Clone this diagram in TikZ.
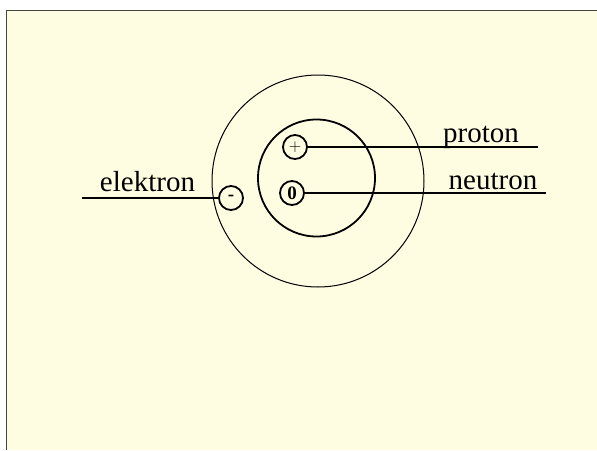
\documentclass[tikz,border=0pt]{standalone}
\usepackage{fontspec}
\setmainfont{Liberation Serif}
\usetikzlibrary{positioning}
\definecolor{paper}{RGB}{255,253,225}
\definecolor{frame}{RGB}{70,70,70}
\tikzset{particle/.style={draw,circle,line width=1.8pt,minimum size=24pt,inner sep=0pt,font=\fontsize{19}{19}\selectfont\bfseries},
label/.style={anchor=base,inner sep=0pt,font=\fontsize{29}{30}\selectfont},
lead/.style={line width=2pt}}
\begin{document}
\begin{tikzpicture}[x=1pt,y=-1pt]
\useasboundingbox(0,0)rectangle(597,450);
\fill[paper](6,10)rectangle(597,450);\draw[frame,line width=1pt](6,450)--(6,10)--(597,10);
\draw[line width=1pt](318,181)circle[radius=106];\draw[line width=1.8pt](316.5,178)circle[radius=58.5];
\node[particle,font=\fontsize{17}{17}\selectfont](proton)at(295,147){$+$};
\node[particle](neutron)at(292,193){0};
\node[particle](elektron)at(231,198){-};
\coordinate(pend)at(538,147);\coordinate(nend)at(546,193);\coordinate(eend)at(82,198);
\draw[lead](proton)--(pend);\draw[lead](neutron)--(nend);\draw[lead](eend)--(elektron);
\node[label](plabel)at(481,142){proton};\node[label](nlabel)at(493,189){neutron};\node[label](elabel)at(147.5,191){elektron};
\end{tikzpicture}
\end{document}
